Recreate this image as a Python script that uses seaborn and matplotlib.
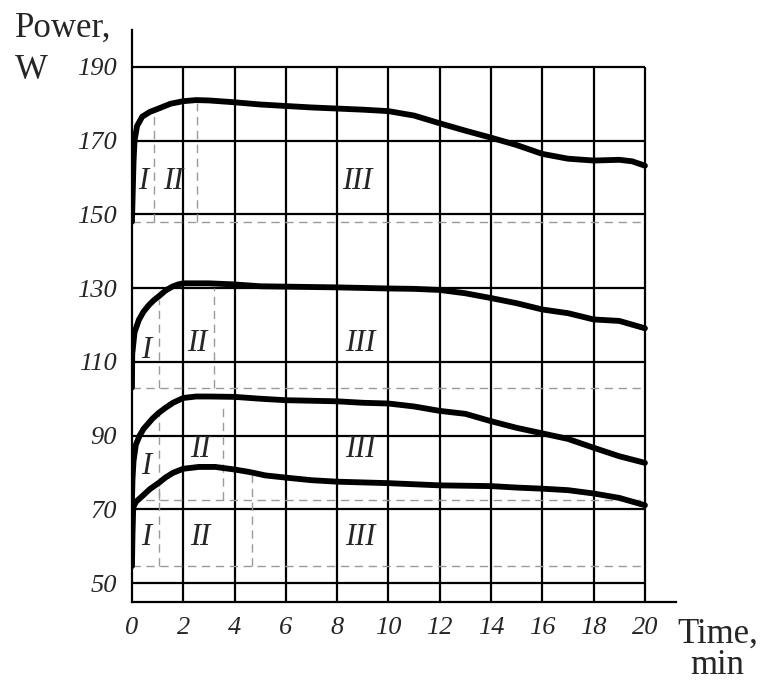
import matplotlib
matplotlib.use("Agg")
import matplotlib.pyplot as plt
import seaborn as sns
import pandas as pd

# -----------------------------
# Data
# -----------------------------
time_1 = [0, 0.03, 0.06, 0.1, 0.2, 0.4, 0.7, 1.0, 1.5, 2.0, 2.5, 3.0, 4, 5, 6, 7, 8, 9, 10, 11, 12, 13, 14, 15, 16, 17, 18, 19, 19.5, 20]
power_1 = [148, 156, 164, 170, 174, 176.5, 177.8, 178.6, 180, 180.7, 181, 180.9, 180.4, 179.8, 179.4, 179, 178.7, 178.4, 178, 176.8, 174.7, 172.7, 170.8, 168.8, 166.4, 165.1, 164.6, 164.8, 164.4, 163.2]

time_2 = [0, 0.01, 0.1, 0.27, 0.45, 0.66, 0.85, 1.05, 1.3, 1.57, 1.8, 2.0, 3, 4, 5, 6, 8, 10, 11, 12, 13, 14, 15, 16, 17, 18, 19, 20]
power_2 = [103, 112, 118, 121.4, 123.6, 125.4, 126.7, 127.8, 129.3, 130.4, 131, 131.3, 131.3, 131, 130.5, 130.4, 130.2, 129.9, 129.8, 129.5, 128.6, 127.3, 125.9, 124.2, 123.2, 121.5, 121.1, 119.1]

time_3 = [0, 0.02, 0.06, 0.15, 0.3, 0.45, 0.6, 0.8, 1.05, 1.3, 1.6, 2.0, 2.5, 3, 4, 5, 6, 8, 9, 10, 11, 12, 13, 14, 15, 16, 17, 18, 19, 20]
power_3 = [72.4, 78, 83, 87.5, 90, 91.8, 93, 94.6, 96.2, 97.5, 98.9, 100.2, 100.6, 100.6, 100.5, 100, 99.6, 99.3, 98.9, 98.7, 97.9, 96.7, 95.9, 93.9, 92.1, 90.6, 89.1, 86.7, 84.4, 82.6]

time_4 = [0, 0.02, 0.05, 0.15, 0.42, 0.7, 1.05, 1.3, 1.6, 2.0, 2.6, 3.25, 4, 4.6, 5.2, 6, 7, 8, 10, 12, 14, 15, 16, 17, 18, 19, 20]
power_4 = [54.6, 63, 70.5, 72, 73.7, 75.5, 77.2, 78.6, 79.9, 81, 81.5, 81.5, 80.8, 80.1, 79.2, 78.6, 77.9, 77.5, 77.1, 76.5, 76.3, 75.9, 75.6, 75.2, 74.3, 73.1, 71.1]

# phase boundaries (dashed helper lines)
baselines = [148, 103, 72.4, 54.6]
phase_x = [[0.87, 2.52], [1.05, 3.21], [1.05, 3.53], [1.05, 4.67]]
phase_top = [[177.6, 180.1], [126.8, 129.9], [96.2, 98.9], [77.2, 79.9]]

# phase label positions (I, II, III for each curve)
label_x = [[0.44, 1.6, 8.8], [0.57, 2.55, 8.9], [0.57, 2.65, 8.9], [0.57, 2.65, 8.9]]
label_y = [[159, 159, 159], [113.2, 115, 115], [81.7, 86.2, 86.2], [62.3, 62.3, 62.3]]
phase_names = ["I", "II", "III"]

x_ticks = list(range(0, 21, 2))
y_ticks = list(range(50, 191, 20))

df = pd.concat([
    pd.DataFrame({"time": time_1, "power": power_1, "run": "1"}),
    pd.DataFrame({"time": time_2, "power": power_2, "run": "2"}),
    pd.DataFrame({"time": time_3, "power": power_3, "run": "3"}),
    pd.DataFrame({"time": time_4, "power": power_4, "run": "4"}),
])

# -----------------------------
# Plot
# -----------------------------
sns.set_style("white")
plt.rcParams["font.family"] = ["Liberation Serif", "DejaVu Serif"]

fig = plt.figure(figsize=(7.65, 6.84), dpi=100)
ax = fig.add_axes([0.1725, 0.1206, 0.7108, 0.8355])

# grid (stops at x=20 / y=190 like the reference)
ax.vlines(x_ticks[1:], 45, 190, color="black", lw=1.6, zorder=1)
ax.hlines(y_ticks, 0, 20, color="black", lw=1.6, zorder=1)

# dashed phase helpers
for base, xs, tops in zip(baselines, phase_x, phase_top):
    ax.hlines(base, 0, 20, color="#9a9a9a", lw=1.0, ls=(0, (6, 4)), zorder=2)
    for xv, tv in zip(xs, tops):
        ax.vlines(xv, base, tv, color="#9a9a9a", lw=1.0, ls=(0, (6, 4)), zorder=2)

sns.lineplot(data=df, x="time", y="power", units="run", estimator=None,
             color="black", lw=4.2, sort=False, ax=ax, zorder=3,
             solid_capstyle="round")

for xs, ys in zip(label_x, label_y):
    for xv, yv, name in zip(xs, ys, phase_names):
        ax.text(xv, yv, name, fontsize=22, style="italic", ha="center",
                va="center", zorder=4)

ax.set_xlim(0, 21.2)
ax.set_ylim(45, 200)
ax.set_xticks(x_ticks)
ax.set_yticks(y_ticks)
ax.set_xticklabels([str(v) for v in x_ticks], fontsize=19, style="italic")
ax.set_yticklabels([str(v) for v in y_ticks], fontsize=19, style="italic")
ax.tick_params(length=0, pad=11)
ax.set_xlabel("")
ax.set_ylabel("")

for side in ["top", "right"]:
    ax.spines[side].set_visible(False)
for side in ["left", "bottom"]:
    ax.spines[side].set_color("black")
    ax.spines[side].set_linewidth(1.6)

fig.text(15 / 765, 1 - 37 / 684, "Power,", fontsize=25, ha="left", va="baseline")
fig.text(15 / 765, 1 - 79 / 684, "W", fontsize=25, ha="left", va="baseline")
fig.text(677 / 765, 1 - 643 / 684, "Time,", fontsize=25, ha="left", va="baseline")
fig.text(690 / 765, 1 - 674 / 684, "min", fontsize=25, ha="left", va="baseline")

fig.savefig("out.png", dpi=100)
plt.close()
